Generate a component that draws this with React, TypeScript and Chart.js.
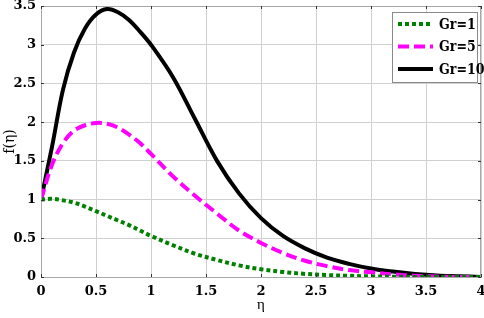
import React, { useEffect, useRef } from "react";
import { Chart, registerables } from "chart.js";

Chart.register(...registerables);

const eta = [0, 0.1, 0.2, 0.3, 0.4, 0.5, 0.6, 0.7, 0.8, 0.9, 1.0, 1.2, 1.4, 1.6, 1.8, 2.0, 2.2, 2.4, 2.6, 2.8, 3.0, 3.2, 3.4, 3.6, 3.8, 4.0];
const fGr1 = [1.0, 1.01, 0.99, 0.96, 0.91, 0.85, 0.79, 0.73, 0.67, 0.6, 0.53, 0.41, 0.3, 0.22, 0.15, 0.1, 0.065, 0.04, 0.025, 0.015, 0.008, 0.004, 0.001, 0, 0, 0];
const fGr5 = [1.0, 1.45, 1.73, 1.89, 1.96, 1.99, 1.98, 1.93, 1.84, 1.73, 1.59, 1.3, 1.05, 0.82, 0.6, 0.44, 0.31, 0.21, 0.14, 0.09, 0.06, 0.035, 0.015, 0.005, 0, 0];
const fGr10 = [1.0, 1.68, 2.42, 2.9, 3.21, 3.39, 3.46, 3.42, 3.32, 3.17, 3.0, 2.58, 2.04, 1.5, 1.08, 0.76, 0.53, 0.37, 0.25, 0.17, 0.11, 0.07, 0.04, 0.02, 0.01, 0];
const seriesLabels = ["Gr=1", "Gr=5", "Gr=10"];
const xMin = 0, xMax = 4, xStep = 0.5;
const yMin = 0, yMax = 3.5, yStep = 0.5;

const FAMILY = '"DejaVu Serif", serif';

const frameAndLegend = {
  id: "frameAndLegend",
  afterDraw(chart: any) {
    const { ctx, chartArea: a, scales } = chart;
    ctx.save();
    ctx.strokeStyle = "#a8a8a8";
    ctx.lineWidth = 1;
    ctx.strokeRect(a.left + 0.5, a.top + 0.5, a.right - a.left - 1, a.bottom - a.top);
    ctx.strokeStyle = "#333";
    scales.x.ticks.forEach((t: any) => {
      const x = Math.round(scales.x.getPixelForValue(t.value)) + 0.5;
      ctx.beginPath();
      ctx.moveTo(x, a.top); ctx.lineTo(x, a.top + 3);
      ctx.moveTo(x, a.bottom); ctx.lineTo(x, a.bottom - 3);
      ctx.stroke();
    });
    scales.y.ticks.forEach((t: any) => {
      const y = Math.round(scales.y.getPixelForValue(t.value)) + 0.5;
      ctx.beginPath();
      ctx.moveTo(a.left, y); ctx.lineTo(a.left + 3, y);
      ctx.moveTo(a.right, y); ctx.lineTo(a.right - 3, y);
      ctx.stroke();
    });
    const bx = 392, by = 12, bw = 85, bh = 70;
    ctx.fillStyle = "#fff";
    ctx.fillRect(bx, by, bw, bh);
    ctx.strokeStyle = "#8a8a8a";
    ctx.strokeRect(bx + 0.5, by + 0.5, bw, bh);
    chart.data.datasets.forEach((ds: any, i: number) => {
      const y = 24 + i * 22.5;
      ctx.beginPath();
      ctx.setLineDash(ds.borderDash || []);
      ctx.strokeStyle = ds.borderColor;
      ctx.lineWidth = ds.borderWidth;
      ctx.lineCap = "butt";
      ctx.moveTo(398, y);
      ctx.lineTo(433, y);
      ctx.stroke();
      ctx.setLineDash([]);
      ctx.fillStyle = "#000";
      ctx.font = `condensed bold 14px ${FAMILY}`;
      ctx.textBaseline = "middle";
      ctx.textAlign = "left";
      ctx.fillText(ds.label, 439, y + 1);
    });
    ctx.restore();
  },
};

export default function App() {
  const ref = useRef<HTMLCanvasElement>(null);
  useEffect(() => {
    document.body.style.margin = "0";
    const mk = (ys: number[]) => eta.map((x, i) => ({ x, y: ys[i] }));
    const tickFont = { family: FAMILY, size: 13, weight: "bold", style: "condensed" } as any;
    const chart = new Chart(ref.current!, {
      type: "line",
      data: {
        datasets: [
          { label: seriesLabels[0], data: mk(fGr1), borderColor: "#008000", borderWidth: 4, borderDash: [4, 3], pointRadius: 0, fill: false, tension: 0.35 },
          { label: seriesLabels[1], data: mk(fGr5), borderColor: "#ff00ff", borderWidth: 4, borderDash: [11, 5], pointRadius: 0, fill: false, tension: 0.35 },
          { label: seriesLabels[2], data: mk(fGr10), borderColor: "#000000", borderWidth: 4, pointRadius: 0, fill: false, tension: 0.35 },
        ],
      },
      options: {
        animation: false,
        responsive: false,
        devicePixelRatio: 1,
        layout: { autoPadding: false, padding: { top: 6, right: 3, left: 0, bottom: 0 } },
        plugins: { legend: { display: false }, tooltip: { enabled: false } },
        scales: {
          x: {
            type: "linear",
            min: xMin,
            max: xMax,
            afterFit: (s: any) => { s.height = 41; s.paddingLeft = 0; s.paddingRight = 0; },
            ticks: { stepSize: xStep, color: "#000", padding: 7, font: tickFont, maxRotation: 0, callback: (v: any) => `${Number(v)}` },
            grid: { color: "#d0d0d0", drawTicks: false, lineWidth: 1 },
            border: { color: "#a8a8a8" },
            title: { display: true, text: "η", color: "#000", font: { family: "Liberation Serif", size: 15 }, padding: { top: 0, bottom: 4 } },
          },
          y: {
            type: "linear",
            min: yMin,
            max: yMax,
            afterFit: (s: any) => { s.width = 41; s.paddingTop = 0; s.paddingBottom = 0; },
            ticks: { stepSize: yStep, color: "#000", padding: 5, font: tickFont, callback: (v: any) => `${Number(v)}` },
            grid: { color: "#d0d0d0", drawTicks: false, lineWidth: 1 },
            border: { color: "#a8a8a8" },
            title: { display: true, text: "f(η)", color: "#000", font: { family: FAMILY, size: 14, style: "condensed" } as any, padding: { top: 2, bottom: 0 } },
          },
        },
      },
      plugins: [frameAndLegend],
    });
    return () => chart.destroy();
  }, []);
  return (
    <div style={{ width: 484, height: 318, background: "#fff" }}>
      <canvas ref={ref} width={484} height={318} style={{ display: "block" }} />
    </div>
  );
}
